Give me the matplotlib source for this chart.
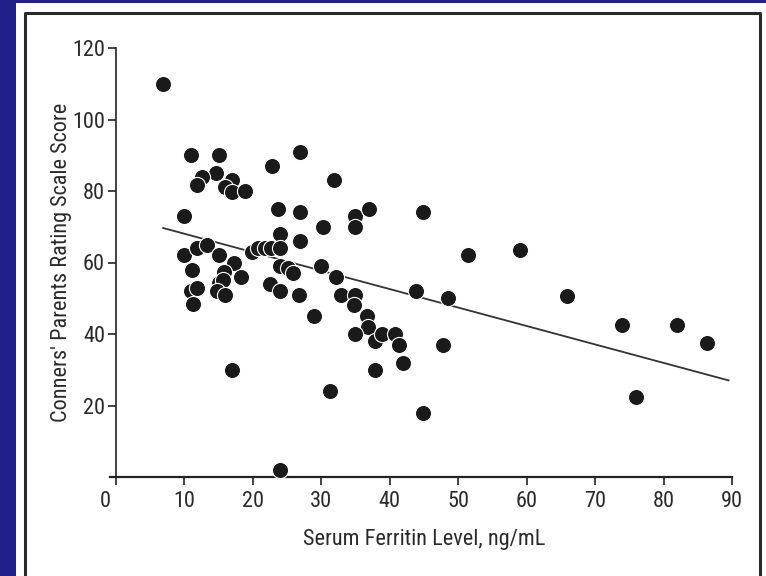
import matplotlib.pyplot as plt
import matplotlib.transforms as mtransforms
import numpy as np
from matplotlib.lines import Line2D
from matplotlib.patches import Rectangle

plt.rcParams['font.family'] = ['Roboto Condensed', 'Liberation Sans Narrow',
                               'Open Sans Condensed', 'Liberation Sans',
                               'DejaVu Sans']

# serum ferritin (ng/mL) and Conners' parent rating scale score
ferritin = [6.9, 10.9, 15.0, 14.6, 12.5, 11.9, 17.0, 15.9, 17.0, 18.9,
            9.9, 22.8, 26.9, 31.9, 23.6, 26.9, 30.2, 23.9, 26.9, 9.9,
            11.9, 13.3, 15.0, 11.1, 17.3, 15.8, 18.3, 19.9, 20.8, 21.8,
            22.7, 24.0, 23.9, 25.1, 25.9, 29.9, 32.1, 22.5, 23.9, 26.8,
            32.9, 10.9, 11.8, 11.2, 15.1, 15.7, 14.8, 15.9, 34.9, 34.9,
            36.9, 44.8, 51.5, 43.8, 48.5, 34.9, 34.7, 28.9, 36.7, 36.8,
            34.9, 37.9, 38.9, 40.8, 41.4, 41.9, 37.9, 47.8, 31.2, 44.8,
            24.0, 17.0, 59.0, 65.9, 74.0, 82.0, 86.4, 76.0]
score = [110, 90, 90, 85, 84, 81.7, 83, 81, 79.8, 80,
         73, 87, 91, 83, 75, 74, 70, 68, 66, 62,
         64, 65, 62, 58, 60, 57.4, 56, 63, 64, 64,
         64, 64, 59, 58.6, 57, 59, 56, 54, 52, 51,
         51, 52, 53, 48.4, 54.4, 55, 52, 51, 73, 70,
         75, 74, 62, 52, 50, 51, 48, 45, 45, 42,
         40, 38, 40, 40, 37, 32, 30, 37, 24, 18,
         2, 30, 63.6, 50.5, 42.5, 42.5, 37.5, 22.5]

# regression line as drawn
fit_intercept = 73.2
fit_slope = -0.516
fit_range = [6.9, 89.5]

xticks = [0, 10, 20, 30, 40, 50, 60, 70, 80, 90]
yticks = [20, 40, 60, 80, 100, 120]

fig = plt.figure(figsize=(7.66, 5.76), dpi=100)
fig.patch.set_facecolor('#20208a')

# white slide panel with its frame
fig.add_artist(Rectangle((16 / 766, 0), 1 - 16 / 766, 1 - 3 / 576,
                         transform=fig.transFigure, facecolor='white',
                         edgecolor='none', zorder=0))
fx = [25 / 766, 25 / 766, 760 / 766, 760 / 766]
fy = [0, 1 - 13 / 576, 1 - 13 / 576, 0]
fig.add_artist(Line2D(fx, fy, transform=fig.transFigure, color='#2a2a2a',
                      linewidth=2.2, zorder=1))

ax = fig.add_axes([116 / 766, 1 - 477 / 576, 616 / 766, 429 / 576])
ax.set_facecolor('none')

fx_line = np.array(fit_range)
ax.plot(fx_line, fit_intercept + fit_slope * fx_line, color='#333333',
        linewidth=1.3, zorder=2)
ax.scatter(ferritin, score, s=135, color='#1a1a1a', edgecolors='white',
           linewidths=0.8, zorder=3, clip_on=False)

ax.set_xlim(0, 90)
ax.set_ylim(0, 120)
ax.set_xticks(xticks)
ax.set_yticks(yticks)
ax.spines['top'].set_visible(False)
ax.spines['right'].set_visible(False)
ax.spines['left'].set_color('#222222')
ax.spines['bottom'].set_color('#222222')
ax.spines['left'].set_linewidth(1.2)
ax.spines['bottom'].set_linewidth(1.6)
ax.spines['bottom'].set_bounds(-0.9, 90)
ax.tick_params(axis='both', direction='out', length=6, width=1.2,
               color='#222222', labelsize=16, labelcolor='#2a2a2a', pad=2)
ax.tick_params(axis='x', pad=4)

# the "0" sits to the left of the origin in the original
zero_lbl = ax.get_xticklabels()[0]
zero_lbl.set_horizontalalignment('right')
zero_lbl.set_transform(zero_lbl.get_transform() +
                       mtransforms.ScaledTranslation(-4 / 72, 0,
                                                     fig.dpi_scale_trans))

ax.set_xlabel('Serum Ferritin Level, ng/mL', fontsize=16, color='#2a2a2a',
              labelpad=12)
ax.set_ylabel("Conners' Parents Rating Scale Score", fontsize=16,
              color='#2a2a2a', labelpad=0)

fig.savefig('out.png', dpi=100, facecolor=fig.get_facecolor())
